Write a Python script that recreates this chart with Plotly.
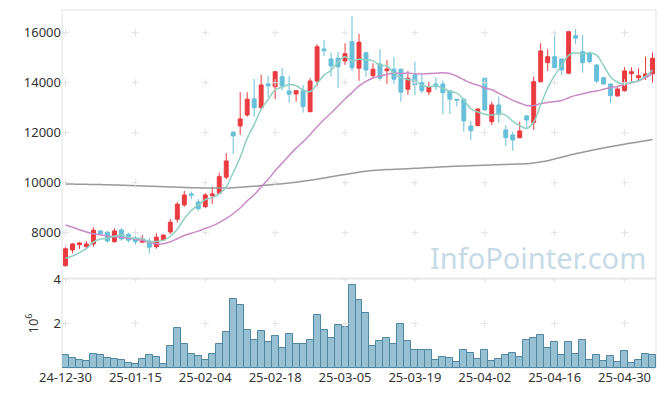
import plotly.graph_objects as go

dates = ["24-12-30",
         "25-01-02", "25-01-03", "25-01-06", "25-01-07", "25-01-08", "25-01-09", "25-01-10",
         "25-01-13", "25-01-14", "25-01-15", "25-01-16", "25-01-17",
         "25-01-20", "25-01-21", "25-01-22", "25-01-23", "25-01-24", "25-01-31",
         "25-02-03", "25-02-04", "25-02-05", "25-02-06", "25-02-07",
         "25-02-10", "25-02-11", "25-02-12", "25-02-13", "25-02-14",
         "25-02-17", "25-02-18", "25-02-19", "25-02-20", "25-02-21",
         "25-02-24", "25-02-25", "25-02-26", "25-02-27", "25-02-28",
         "25-03-04", "25-03-05", "25-03-06", "25-03-07",
         "25-03-10", "25-03-11", "25-03-12", "25-03-13", "25-03-14",
         "25-03-17", "25-03-18", "25-03-19", "25-03-20", "25-03-21",
         "25-03-24", "25-03-25", "25-03-26", "25-03-27", "25-03-28",
         "25-03-31", "25-04-01", "25-04-02", "25-04-03", "25-04-04",
         "25-04-07", "25-04-08", "25-04-09", "25-04-10", "25-04-11",
         "25-04-14", "25-04-15", "25-04-16", "25-04-17", "25-04-18",
         "25-04-21", "25-04-22", "25-04-23", "25-04-24", "25-04-25",
         "25-04-28", "25-04-29", "25-04-30", "25-05-02",
         "25-05-07", "25-05-08", "25-05-09"]

opens = [6680, 7310, 7520, 7440, 7550, 8070, 8020, 7640, 8110, 7940,
         7790, 7620, 7670, 7440, 7710, 8030, 8540, 9110, 9550, 9230,
         9040, 9480, 9580, 10220, 12020, 12270, 12710, 13350, 13000, 13950,
         13840, 14240, 13670, 13550, 13680, 12840, 14070, 15350, 14950, 14980,
         14870, 15640, 14580, 15200, 14280, 14750, 14480, 14540, 14540, 13740,
         14310, 14000, 13630, 13950, 13950, 13670, 13340, 13340, 12270, 12280,
         14180, 12440, 13110, 12110, 11910, 11800, 12670, 12400, 14040, 14800,
         15040, 14950, 14380, 15880, 15240, 15180, 14710, 14200, 13950, 13470,
         13680, 14360, 14200, 14240, 14350]
highs = [7420, 7580, 7620, 7660, 8220, 8110, 8070, 8180, 8180, 8000,
         7870, 7900, 7780, 7980, 7940, 8540, 9220, 9670, 9640, 9340,
         9580, 9840, 10400, 11180, 12070, 13620, 13620, 14150, 14310, 14270,
         14460, 14580, 14270, 13700, 13910, 14180, 15540, 15710, 15200, 15240,
         15580, 16670, 15950, 15220, 14780, 15340, 14910, 15040, 14560, 14470,
         14840, 14310, 14040, 14220, 14080, 13690, 13350, 13350, 12470, 12960,
         14190, 13240, 13440, 12310, 12040, 12440, 12710, 14240, 15580, 15340,
         16040, 14960, 16070, 16150, 15910, 15240, 14720, 14240, 13960, 13820,
         14620, 14620, 14580, 15040, 15200]
lows = [6640, 7180, 7350, 7360, 7440, 7940, 7600, 7600, 7680, 7600,
        7520, 7600, 7180, 7360, 7670, 7950, 8400, 9040, 9340, 8870,
        8980, 9150, 9550, 10140, 11140, 11910, 12640, 12640, 12940, 13420,
        13340, 13680, 13200, 13240, 12800, 12820, 13870, 15070, 14240, 13780,
        14710, 14470, 14080, 14240, 14180, 14080, 13950, 13950, 13240, 13510,
        13510, 13580, 13500, 13710, 12750, 12740, 13050, 12040, 11710, 12270,
        12890, 12310, 12400, 11470, 11280, 11780, 12200, 12110, 14000, 14470,
        14600, 14310, 14340, 15550, 14400, 14780, 13980, 13910, 13180, 13440,
        13640, 14040, 14040, 14110, 14000]
closes = [7360, 7550, 7590, 7550, 8100, 7960, 7670, 8070, 7750, 7700,
          7640, 7700, 7420, 7820, 7900, 8420, 9140, 9510, 9500, 8960,
          9510, 9550, 10240, 10870, 11870, 12550, 13340, 13000, 13910, 13870,
          14440, 13870, 13540, 13680, 13040, 14070, 15440, 15280, 14670, 14640,
          15160, 14600, 15620, 14510, 14540, 14180, 14550, 14140, 13620, 14180,
          13910, 13680, 13820, 13840, 13600, 13340, 13300, 12470, 12080, 12950,
          12910, 13110, 12750, 11800, 11710, 12070, 12510, 14040, 15270, 15040,
          14600, 14510, 16040, 15780, 14800, 14840, 14070, 13950, 13480, 13750,
          14470, 14440, 14280, 14350, 14980]
volumes = [600000, 430000, 340000, 300000, 640000, 600000, 460000, 420000, 370000, 240000,
           190000, 420000, 600000, 510000, 190000, 970000, 1790000, 1100000, 640000, 550000,
           370000, 640000, 1100000, 1600000, 3110000, 2850000, 1700000, 1240000, 1650000, 1160000,
           1420000, 920000, 1520000, 1060000, 1060000, 1240000, 2380000, 1700000, 1330000, 1930000,
           1840000, 3720000, 3070000, 2470000, 1010000, 1210000, 1370000, 1100000, 1970000, 1210000,
           800000, 830000, 830000, 370000, 510000, 460000, 280000, 830000, 690000, 420000,
           830000, 320000, 420000, 600000, 690000, 510000, 1240000, 1370000, 1470000, 880000,
           1150000, 600000, 1190000, 640000, 1240000, 370000, 600000, 320000, 550000, 280000,
           780000, 240000, 370000, 640000, 600000]
ma5 = [6975, 7070, 7200, 7375, 7628, 7748, 7773, 7868, 7909, 7829,
       7765, 7770, 7639, 7652, 7692, 7847, 8135, 8554, 8890, 9103,
       9322, 9405, 9552, 9826, 10408, 11016, 11773, 12325, 12932, 13332,
       13711, 13818, 13924, 13879, 13714, 13639, 13954, 14303, 14500, 14820,
       15039, 14871, 14938, 14906, 14884, 14687, 14676, 14380, 14202, 14130,
       14076, 13903, 13839, 13884, 13770, 13655, 13579, 13309, 12957, 12827,
       12741, 12703, 12759, 12703, 12455, 12287, 12167, 12426, 13119, 13786,
       14292, 14692, 15092, 15194, 15146, 15194, 15106, 14687, 14228, 14018,
       13943, 14018, 14084, 14258, 14503]
ma20 = [8310, 8220, 8120, 8030, 7960, 7910, 7870, 7840, 7810, 7780,
        7740, 7690, 7620, 7560, 7560, 7640, 7760, 7890, 7980, 8063,
        8171, 8271, 8403, 8569, 8758, 8987, 9271, 9517, 9825, 10134,
        10474, 10783, 11089, 11382, 11639, 11922, 12237, 12526, 12785, 13069,
        13351, 13604, 13872, 14054, 14188, 14269, 14330, 14386, 14372, 14387,
        14360, 14351, 14365, 14373, 14401, 14364, 14257, 14117, 13987, 13903,
        13790, 13715, 13572, 13437, 13295, 13190, 13088, 13083, 13166, 13209,
        13244, 13285, 13397, 13493, 13553, 13629, 13667, 13741, 13811, 13851,
        13929, 13996, 14072, 14205, 14368]
ma120 = [9950, 9945, 9940, 9935, 9930, 9925, 9918, 9910, 9900, 9890,
         9880, 9870, 9860, 9850, 9840, 9830, 9820, 9810, 9800, 9795,
         9790, 9785, 9785, 9790, 9800, 9815, 9835, 9860, 9885, 9910,
         9935, 9960, 9990, 10020, 10055, 10095, 10140, 10190, 10240, 10285,
         10330, 10375, 10420, 10460, 10490, 10510, 10525, 10535, 10545, 10560,
         10575, 10590, 10605, 10620, 10635, 10650, 10660, 10670, 10680, 10690,
         10700, 10710, 10720, 10730, 10740, 10750, 10760, 10790, 10830, 10880,
         10950, 11020, 11090, 11160, 11220, 11280, 11340, 11390, 11440, 11490,
         11540, 11590, 11630, 11680, 11730]

tick_dates = ["24-12-30", "25-01-15", "25-02-04", "25-02-18", "25-03-05",
              "25-03-19", "25-04-02", "25-04-16", "25-04-30"]
price_ticks = [8000, 10000, 12000, 14000, 16000]
price_tick_text = ["8000", "10000", "12000", "14000", "16000"]
vol_ticks = [2000000, 4000000]
vol_tick_text = ["2", "4"]

RED = "#ea3b40"
BLUE = "#67bfd9"
FONT = "Noto Sans"

fig = go.Figure()

fig.add_trace(go.Scatter(x=dates, y=ma120, mode="lines", xaxis="x", yaxis="y",
                         line=dict(color="#999999", width=1.5, shape="spline"),
                         showlegend=False))
fig.add_trace(go.Scatter(x=dates, y=ma20, mode="lines", xaxis="x", yaxis="y",
                         line=dict(color="#c98ac6", width=1.5, shape="spline"),
                         showlegend=False))
fig.add_trace(go.Scatter(x=dates, y=ma5, mode="lines", xaxis="x", yaxis="y",
                         line=dict(color="#8fd0c0", width=1.5, shape="spline"),
                         showlegend=False))

fig.add_trace(go.Candlestick(x=dates, open=opens, high=highs, low=lows, close=closes,
                             xaxis="x", yaxis="y", whiskerwidth=0,
                             increasing=dict(line=dict(color=RED, width=1), fillcolor=RED),
                             decreasing=dict(line=dict(color=BLUE, width=1), fillcolor=BLUE),
                             showlegend=False))

fig.add_trace(go.Bar(x=dates, y=volumes, xaxis="x", yaxis="y2",
                     marker=dict(color="rgba(128,178,200,0.82)",
                                 line=dict(color="#4f87a3", width=1)),
                     showlegend=False))

# faint "+" markers at tick intersections
gx = [d for d in tick_dates for _ in price_ticks]
gy = [p for _ in tick_dates for p in price_ticks]
fig.add_trace(go.Scatter(x=gx, y=gy, mode="markers", xaxis="x", yaxis="y",
                         marker=dict(symbol="cross-thin", size=5, color="#e2e2e2",
                                     line=dict(color="#e2e2e2", width=1)),
                         hoverinfo="skip", showlegend=False))
vgx = [d for d in tick_dates for _ in vol_ticks]
vgy = [p for _ in tick_dates for p in vol_ticks]
fig.add_trace(go.Scatter(x=vgx, y=vgy, mode="markers", xaxis="x", yaxis="y2",
                         marker=dict(symbol="cross-thin", size=5, color="#e2e2e2",
                                     line=dict(color="#e2e2e2", width=1)),
                         hoverinfo="skip", showlegend=False))

fig.update_layout(
    width=665, height=396,
    margin=dict(l=62, r=9, t=10, b=28, autoexpand=False),
    paper_bgcolor="white", plot_bgcolor="white",
    font=dict(family=FONT, size=13, color="#333333"),
    bargap=0, boxgap=0.2,
    xaxis=dict(type="category", categoryorder="array", categoryarray=dates,
               domain=[0, 1], anchor="y2", automargin=False,
               range=[-0.5, 84.5], tickmode="array", tickvals=tick_dates,
               ticktext=tick_dates, tickangle=0, showgrid=False, zeroline=False,
               rangeslider=dict(visible=False), ticks="", ticklen=0,
               tickfont=dict(size=13, color="#333333")),
    yaxis=dict(domain=[0.2514, 1], range=[6188, 16908], tickmode="array",
               tickvals=price_ticks, ticktext=price_tick_text, automargin=False,
               showgrid=False, zeroline=False,
               ticks="", tickfont=dict(size=13, color="#333333")),
    yaxis2=dict(domain=[0, 0.2486], range=[0, 4000000], tickmode="array",
                tickvals=vol_ticks, ticktext=vol_tick_text, showgrid=False,
                zeroline=False, ticks="", automargin=False,
                title=dict(text="10<sup>6</sup>", font=dict(size=13, color="#333333"),
                           standoff=12),
                tickfont=dict(size=13, color="#333333")),
    shapes=[
        dict(type="rect", xref="x domain", yref="y domain", x0=0, x1=1, y0=0, y1=1,
             line=dict(color="#e3e3e3", width=1), layer="below"),
        dict(type="rect", xref="x domain", yref="y2 domain", x0=0, x1=1, y0=0, y1=1,
             line=dict(color="#e3e3e3", width=1), layer="below"),
    ],
    annotations=[
        dict(text="InfoPointer.com", xref="paper", yref="paper", x=0.987, y=0.31,
             xanchor="right", yanchor="middle", showarrow=False,
             font=dict(family=FONT, size=29, color="#c6dbe5")),
    ],
)

fig.write_html("out.html", config={"displayModeBar": False},
               post_script="document.body.style.margin='0';")
